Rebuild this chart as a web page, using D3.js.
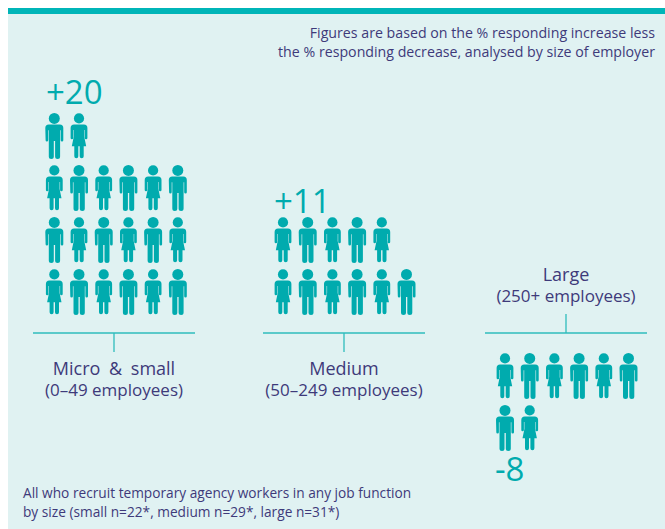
<!DOCTYPE html>
<html><head><meta charset="utf-8">
<script src="https://cdn.jsdelivr.net/npm/d3@7/dist/d3.min.js"></script>
<style>html,body{margin:0;padding:0;background:#fff}svg{display:block}text{font-family:"Open Sans",sans-serif}</style>
</head><body><svg id="c" width="665" height="529"></svg>
<script>
const categories = ["Micro & small", "Medium", "Large"];
const subLabels = ["(0–49 employees)", "(50–249 employees)", "(250+ employees)"];
const values = [20, 11, -8];
const valueLabels = ["+20", "+11", "-8"];
const genders = [
  ["w","m","w","m","w","m","m","w","m","w","m","w","w","m","w","m","w","m","m","w"],
  ["w","m","w","m","w","m","w","m","w","m","w"],
  ["w","m","w","m","w","m","m","w"]
];
const note = ["Figures are based on the % responding increase less","the % responding decrease, analysed by size of employer"];
const foot = ["All who recruit temporary agency workers in any job function","by size (small n=22*, medium n=29*, large n=31*)"];

const ink="#3e3a7a", teal="#00abae";
const svg=d3.select("#c");
svg.append("rect").attr("x",8).attr("y",8).attr("width",657).attr("height",521).attr("fill","#e0f2f2");
svg.append("rect").attr("x",8).attr("y",8).attr("width",657).attr("height",6).attr("fill","#00b5b8");

const perRow=6, pitchX=24.7, pitchY=52;
const columns=d3.range(perRow);
const left=[54.3,283,505];
const baseline=[315,315,353];
const axisX=[33,263,485], axisW=162, axisY=[333,333,333];

const man="M-9,15a3.5,3.5 0 0 1 3.5,-3.5h11a3.5,3.5 0 0 1 3.5,3.5V27.3a1.3,1.3 0 0 1 -2.6,0V17.3h-.6V43.5a2.5,2.5 0 0 1 -5,0V28h-1.3V43.5a2.5,2.5 0 0 1 -5,0V17.3h-.6V27.3a1.3,1.3 0 0 1 -2.6,0z";
const woman="M-8.4,15a3.5,3.5 0 0 1 3.5,-3.5h9.8a3.5,3.5 0 0 1 3.5,3.5V25a1.3,1.3 0 0 1 -2.6,0V17h-.5V24L7.2,33.3H4.7V43.2a2,2 0 0 1 -4,0V33.3H-.7V43.2a2,2 0 0 1 -4,0V33.3H-7.2L-5.3,24V17h-.5V25a1.3,1.3 0 0 1 -2.6,0z";
const iconH=46;

categories.forEach((c,g)=>{
  const up=values[g]>0;
  const x=d3.scaleBand().domain(columns).range([left[g]-pitchX/2,left[g]-pitchX/2+perRow*pitchX]);
  const y=d3.scaleLinear().domain([0,1]).range(up?[baseline[g]-iconH,baseline[g]-iconH-pitchY]:[baseline[g],baseline[g]+pitchY]);
  const n=Math.abs(values[g]);
  const G=svg.append("g");
  G.selectAll("g.p").data(d3.range(n)).join("g").attr("class","p")
    .attr("transform",i=>`translate(${x(i%perRow)+x.bandwidth()/2},${y(Math.floor(i/perRow))})`)
    .each(function(i){
      const s=d3.select(this), w=genders[g][i]==="w";
      s.append("circle").attr("cy",5.4).attr("r",w?5.1:5.5).attr("fill",teal);
      s.append("path").attr("d",w?woman:man).attr("fill",teal);
    });
  svg.append("line").attr("x1",axisX[g]).attr("x2",axisX[g]+axisW).attr("y1",axisY[g]).attr("y2",axisY[g]).attr("stroke","#2fbcbc").attr("stroke-width",1.3);
  const tx=axisX[g]+axisW/2;
  svg.append("line").attr("x1",tx).attr("x2",tx).attr("y1",up?axisY[g]:axisY[g]-19).attr("y2",up?axisY[g]+19:axisY[g]).attr("stroke","#2fbcbc").attr("stroke-width",1.3);
  const ly=up?[375,396]:[281,302];
  svg.append("text").attr("x",tx).attr("y",ly[0]).attr("text-anchor","middle").attr("font-size",18).attr("word-spacing",g===0?4:0).attr("fill",ink).text(c);
  svg.append("text").attr("x",tx).attr("y",ly[1]).attr("text-anchor","middle").attr("font-size",17).attr("fill",ink).text(subLabels[g]);
});
const vx=[46,274,495], vy=[104,213,481], vs=[33,33,33];
valueLabels.forEach((t,g)=>svg.append("text").attr("x",vx[g]).attr("y",vy[g]).attr("font-size",vs[g]).attr("fill",teal).text(t));
note.forEach((t,i)=>svg.append("text").attr("x",655).attr("y",37.5+i*19.5).attr("text-anchor","end").attr("font-size",14.2).attr("fill",ink).text(t));
foot.forEach((t,i)=>svg.append("text").attr("x",23).attr("y",498+i*19).attr("font-size",13.7).attr("fill",ink).text(t));
</script></body></html>
